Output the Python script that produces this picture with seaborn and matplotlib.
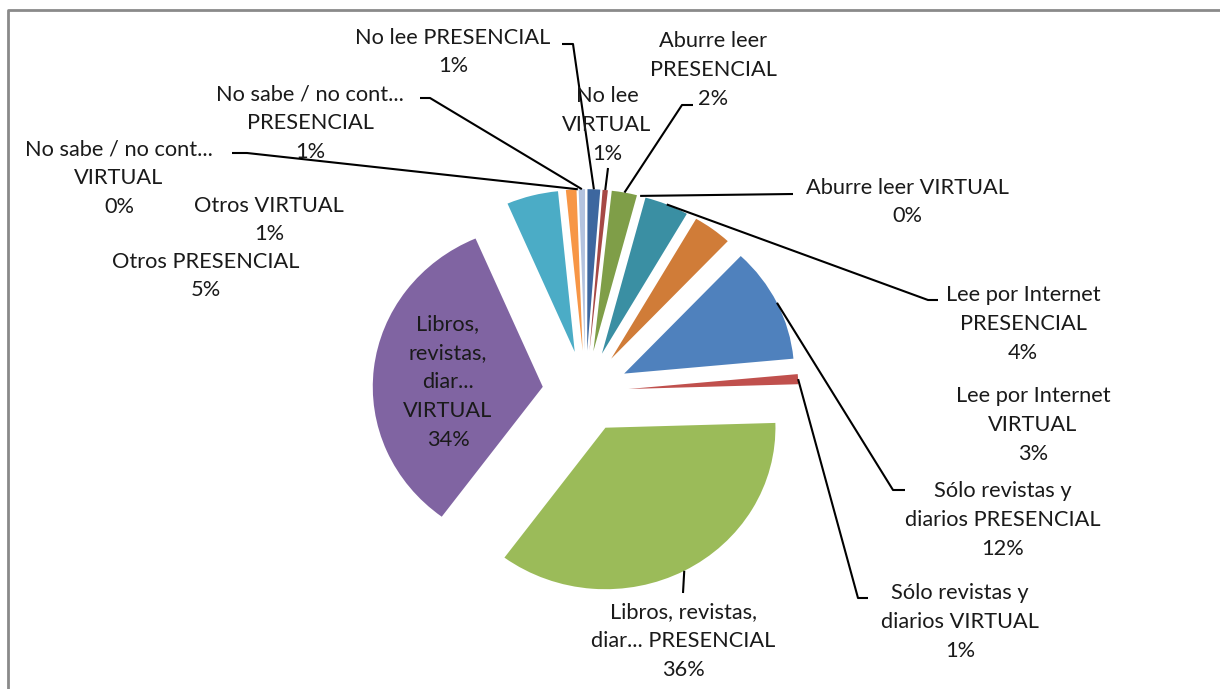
import numpy as np
import matplotlib
matplotlib.use("Agg")
import matplotlib.pyplot as plt
import seaborn as sns

# datos (porcentaje de cada categoria, en el orden de la torta, sentido horario)
categorias = ["Sólo revistas y diarios", "Sólo revistas y diarios",
              "Libros, revistas, diar...", "Libros, revistas, diar...",
              "Otros", "Otros", "No sabe / no cont...", "No sabe / no cont...",
              "No lee", "No lee", "Aburre leer", "Aburre leer",
              "Lee por Internet", "Lee por Internet"]
modalidad = ["PRESENCIAL", "VIRTUAL", "PRESENCIAL", "VIRTUAL", "PRESENCIAL", "VIRTUAL",
             "VIRTUAL", "PRESENCIAL", "PRESENCIAL", "VIRTUAL", "PRESENCIAL", "VIRTUAL",
             "PRESENCIAL", "VIRTUAL"]
valores = [11.5, 1.0, 35.6, 33.4, 4.9, 1.0, 0.0, 0.6, 1.2, 0.5, 2.4, 0.0, 4.2, 3.7]
pct = ["12%", "1%", "36%", "34%", "5%", "1%", "0%", "1%", "1%", "1%", "2%", "0%", "4%", "3%"]
colores = ["#4F81BD", "#C0504D", "#9BBB59", "#8064A2", "#4BACC6", "#F79646",
           "#B65708", "#B3C3DF", "#3D679F", "#A64845", "#7F9E48", "#4D3B62",
           "#3A8FA3", "#D07C38"]

# como se parte cada etiqueta en lineas
textos = [
    "Sólo revistas y\ndiarios PRESENCIAL\n12%",
    "Sólo revistas y\ndiarios VIRTUAL\n1%",
    "Libros, revistas,\ndiar... PRESENCIAL\n36%",
    "Libros,\nrevistas,\ndiar...\nVIRTUAL\n34%",
    "Otros PRESENCIAL\n5%",
    "Otros VIRTUAL\n1%",
    "No sabe / no cont...\nVIRTUAL\n0%",
    "No sabe / no cont...\nPRESENCIAL\n1%",
    "No lee PRESENCIAL\n1%",
    "No lee\nVIRTUAL\n1%",
    "Aburre leer\nPRESENCIAL\n2%",
    "Aburre leer VIRTUAL\n0%",
    "Lee por Internet\nPRESENCIAL\n4%",
    "Lee por Internet\nVIRTUAL\n3%",
]

# posicion de las etiquetas (pixeles) y de las lineas guia
pos_texto = [(1003, 520), (960, 622), (683, 641), (448, 382), (206, 276), (269, 220),
             (119, 178), (310, 123), (453, 52), (607, 125), (713, 70), (907, 202),
             (1023, 324), (1033, 425)]
guias = {0: [(905, 490), (893, 490)], 1: [(868, 598), (858, 598)], 2: [(683, 593)],
         6: [(232, 153), (247, 153)], 7: [(420, 98), (430, 98)],
         8: [(562, 44), (573, 44)], 9: [(608, 168)], 10: [(693, 105), (682, 105)],
         11: [(793, 194)], 12: [(938, 300), (928, 300)]}

sns.set_theme(style="white")
plt.rcParams['font.family'] = ['Lato', 'DejaVu Sans']

CX, CY, RX, RY = 585.5, 391.5, 170.0, 161.5
W, H = 1220, 689


def px(x, y):
    return (x - CX) / RX, (CY - y) / RY


fig = plt.figure(figsize=(W / 100, H / 100), dpi=100)
ax = fig.add_axes([0, 0, 1, 1])
wedges, _ = ax.pie(valores, colors=colores, startangle=46.7, counterclock=False,
                   explode=[0.253] * len(valores), radius=1,
                   wedgeprops=dict(linewidth=0, edgecolor="none"))
ax.set_aspect("auto")
ax.set_xlim(px(0, 0)[0], px(W, 0)[0])
ax.set_ylim(px(0, H)[1], px(0, 0)[1])
ax.axis("off")

for i, w in enumerate(wedges):
    if i not in guias:
        continue
    mid = np.deg2rad((w.theta1 + w.theta2) / 2)
    ex, ey = w.center[0] + w.r * np.cos(mid), w.center[1] + w.r * np.sin(mid)
    pts = [px(*p) for p in guias[i]] + [(ex, ey)]
    xs, ys = zip(*pts)
    ax.plot(xs, ys, color="black", lw=1.5, solid_capstyle="butt")

for t, (x, y) in zip(textos, pos_texto):
    ax.text(*px(x, y), t, ha="center", va="center", fontsize=15.7,
            linespacing=1.56, color="#1a1a1a")

# marco gris del grafico
ax.plot(*zip(px(7.5, H + 5), px(7.5, 10.5), px(W + 5, 10.5)), color="#8a8a8a",
        lw=2, clip_on=False)

fig.savefig("out.png", dpi=100, facecolor="white")
